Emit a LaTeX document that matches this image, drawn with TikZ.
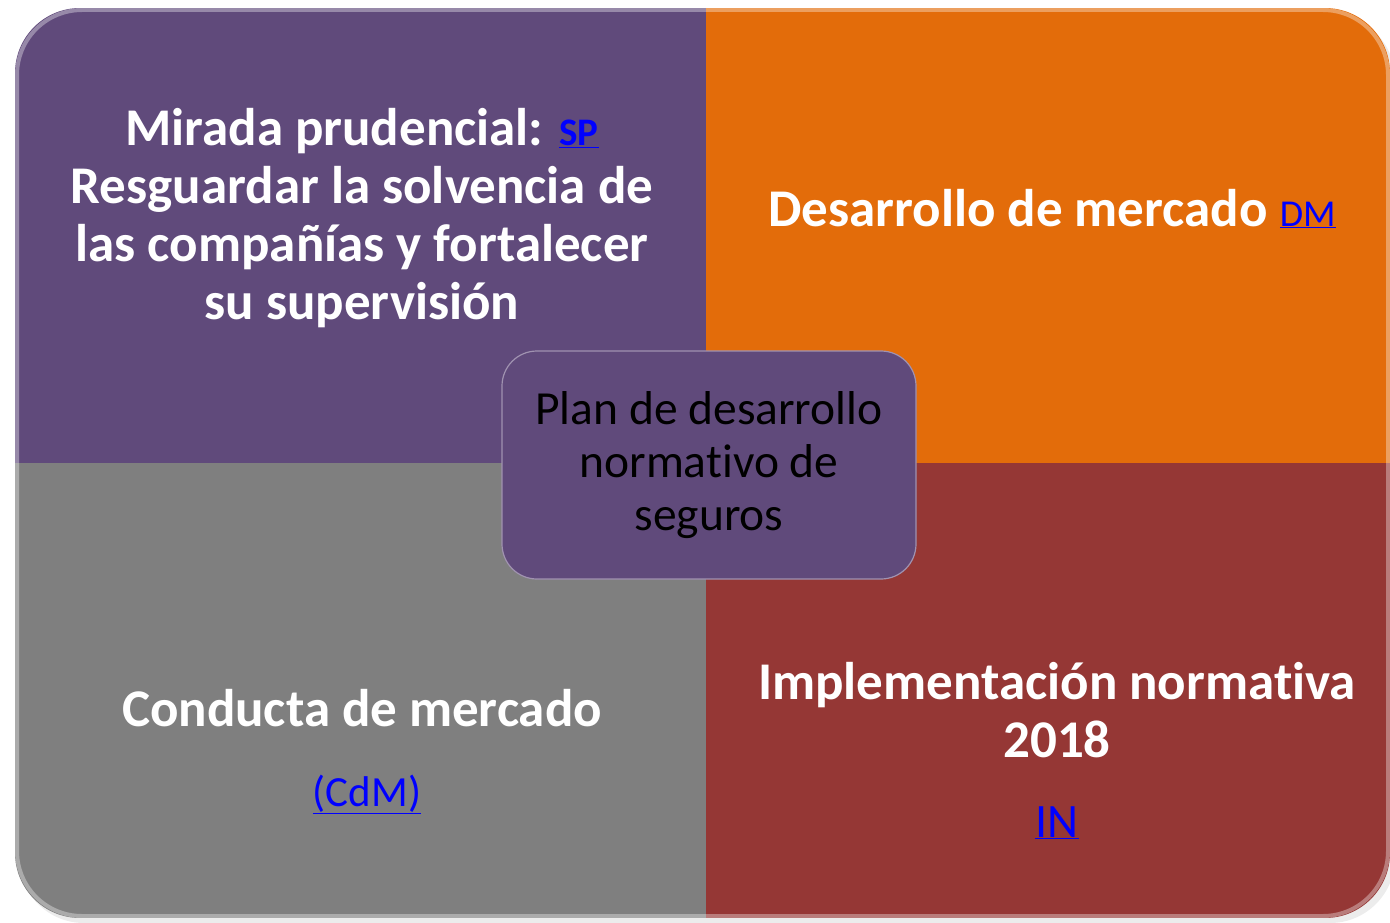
\documentclass[tikz,border=0pt]{standalone}
\usepackage{fontspec}
\setmainfont{Carlito}[Ligatures=NoCommon]
\usetikzlibrary{calc}
\definecolor{qpurple}{HTML}{604A7B}
\definecolor{qorange}{HTML}{E36C0A}
\definecolor{qgray}{HTML}{7F7F7F}
\definecolor{qred}{HTML}{953735}
\definecolor{qlink}{HTML}{0000FF}
\tikzset{
  quadtext/.style={text=white, align=center, font=\bfseries\fontsize{53}{58}\selectfont},
  linktext/.style={text=qlink, font=\fontsize{43}{50}\selectfont},
  centerbox/.style={fill=qpurple, rounded corners=35, minimum width=414, minimum height=228, draw=qpurple!60!white, line width=1.2, align=center, text=black, font=\fontsize{47.5}{53}\selectfont}
}
\newcommand{\lnk}[1]{\underline{#1}}
\begin{document}
\begin{tikzpicture}[x=1pt,y=-1pt]
\useasboundingbox (0,0) rectangle (1390,923);
\fill[gray!30, opacity=0.5, rounded corners=65] (19,14) rectangle (1395,923);
\begin{scope}
\clip[rounded corners=65] (15,8) rectangle (1390,918);
\fill[qpurple] (15,8) rectangle (706,463);
\fill[qorange] (706,8) rectangle (1390,463);
\fill[qgray] (15,463) rectangle (706,918);
\fill[qred] (706,463) rectangle (1390,918);
\draw[white, opacity=0.35, line width=4, rounded corners=65] (17,10) rectangle (1388,916);
\end{scope}
\node[quadtext] (sp) at (362,218) {Mirada prudencial: \textcolor{qlink}{\fontsize{39}{44}\selectfont\lnk{SP}}\\Resguardar la solvencia de\\las compañías y fortalecer\\su supervisión};
\node[quadtext, anchor=base] (dm) at (1052,226) {Desarrollo de mercado \textcolor{qlink}{\mdseries\fontsize{38}{44}\selectfont\lnk{DM}}};
\node[quadtext, anchor=base] (cdm) at (362,726) {Conducta de mercado};
\node[linktext, anchor=base] (cdml) at (367,806) {\lnk{(CdM)}};
\node[quadtext, anchor=base] (in) at (1057,757) {Implementación normativa\\2018};
\node[linktext, anchor=base, font=\fontsize{48}{54}\selectfont] (inl) at (1057,837) {\lnk{IN}};
\node[centerbox] (plan) at (709,465) {Plan de desarrollo\\normativo de\\seguros};
\end{tikzpicture}
\end{document}
